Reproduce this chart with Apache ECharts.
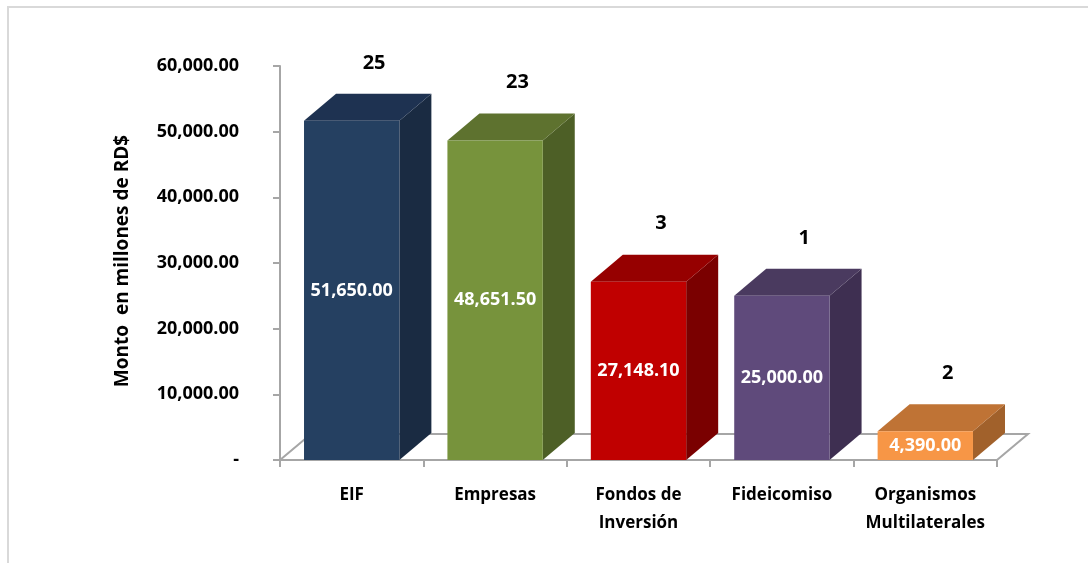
<!DOCTYPE html>
<html>
<head>
<meta charset="utf-8">
<script src="https://cdn.jsdelivr.net/npm/echarts@6/dist/echarts.min.js"></script>
<style>
  html, body { margin: 0; padding: 0; background: #fff; }
  #chart { width: 1088px; height: 563px; }
</style>
</head>
<body>
<div id="chart"></div>
<script>
var categories = ['EIF', 'Empresas', 'Fondos de\nInversión', 'Fideicomiso', 'Organismos\nMultilaterales'];
var amounts = [51650.00, 48651.50, 27148.10, 25000.00, 4390.00];
var counts = [25, 23, 3, 1, 2];

// front / top / side shades for each bar
var palette = [
    { front: '#254061', top: '#1e3251', side: '#1a2b42' },
    { front: '#77933c', top: '#5e722f', side: '#4d5f26' },
    { front: '#c00000', top: '#960000', side: '#7a0000' },
    { front: '#5f4a7b', top: '#4a3a5f', side: '#3e2f51' },
    { front: '#f79646', top: '#bf7335', side: '#a1612b' }
];

var DX = 32, DY = -27;
var FONT = '"Open Sans", "Noto Sans", sans-serif';

function fmt(v) {
    var parts = v.toFixed(2).split('.');
    parts[0] = parts[0].replace(/\B(?=(\d{3})+(?!\d))/g, ',');
    return parts.join('.');
}

function renderFloor(params, api) {
    var cs = params.coordSys;
    var yb = cs.y + cs.height;
    var xl = cs.x, xr = cs.x + cs.width;
    return {
        type: 'polygon',
        shape: { points: [[xl, yb], [xr, yb], [xr + DX - 1, yb + DY + 1], [xl + DX - 1, yb + DY + 1]] },
        style: { fill: '#fff', stroke: '#a6a6a6', lineWidth: 2 }
    };
}

function renderBar(params, api) {
    var i = params.dataIndex;
    var val = api.value(1);
    var base = api.coord([api.value(0), 0]);
    var top = api.coord([api.value(0), val]);
    var w = api.size([1, 0])[0] * 0.665;
    var x0 = base[0] - w / 2, x1 = base[0] + w / 2;
    var yb = base[1], yt = top[1];
    var c = palette[i];
    return {
        type: 'group',
        children: [
            { type: 'polygon', shape: { points: [[x1, yb], [x1 + DX, yb + DY], [x1 + DX, yt + DY], [x1, yt]] }, style: { fill: c.side } },
            { type: 'polygon', shape: { points: [[x0, yt], [x0 + DX, yt + DY], [x1 + DX, yt + DY], [x1, yt]] }, style: { fill: c.top } },
            { type: 'rect', shape: { x: x0, y: yt, width: w, height: yb - yt }, style: { fill: c.front } },
            { type: 'text', x: base[0], y: (yt + yb) / 2, style: { text: fmt(val), fill: '#fff', font: 'bold 18px ' + FONT, align: 'center', verticalAlign: 'middle' } },
            { type: 'text', x: base[0] + DX * 0.7, y: yt + DY - 31, style: { text: String(counts[i]), fill: '#000', font: 'bold 20px ' + FONT, align: 'center', verticalAlign: 'middle' } }
        ]
    };
}

var chart = echarts.init(document.getElementById('chart'));
chart.setOption({
    animation: false,
    backgroundColor: '#fff',
    graphic: [{
        type: 'rect',
        shape: { x: 8, y: 7, width: 1200, height: 700 },
        style: { fill: 'none', stroke: '#d9d9d9', lineWidth: 2 },
        silent: true
    }],
    grid: { left: 280, right: 91, top: 66, bottom: 103 },
    xAxis: {
        type: 'category',
        data: categories,
        axisLine: { show: true, lineStyle: { color: '#a6a6a6', width: 2 } },
        axisTick: { show: true, length: 7, lineStyle: { color: '#a6a6a6', width: 2 } },
        axisLabel: { margin: 21, color: '#000', fontFamily: FONT, fontWeight: 'bold', fontSize: 17, lineHeight: 28, interval: 0 }
    },
    yAxis: {
        type: 'value',
        min: 0,
        max: 60000,
        interval: 10000,
        name: 'Monto  en millones de RD$',
        nameLocation: 'middle',
        nameRotate: 90,
        nameGap: 148,
        nameTextStyle: { color: '#000', fontFamily: FONT, fontWeight: 'bold', fontSize: 19, padding: [0, 0, 0, 4] },
        splitLine: { show: false },
        axisLine: { show: true, lineStyle: { color: '#a6a6a6', width: 2 } },
        axisTick: { show: true, length: 7, lineStyle: { color: '#a6a6a6', width: 2 } },
        axisLabel: {
            margin: 41,
            color: '#000',
            fontFamily: FONT,
            fontWeight: 'bold',
            fontSize: 18,
            formatter: function (v) { return v === 0 ? '-' : fmt(v); }
        }
    },
    series: [{
        type: 'custom',
        z: 1,
        silent: true,
        renderItem: renderFloor,
        data: [[0, 0]]
    }, {
        type: 'custom',
        z: 3,
        renderItem: renderBar,
        encode: { x: 0, y: 1 },
        data: amounts.map(function (v, i) { return [i, v]; })
    }]
});
</script>
</body>
</html>
